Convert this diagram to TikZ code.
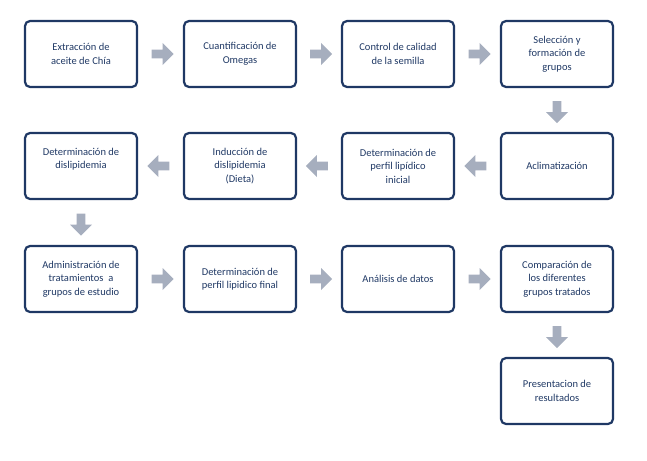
\documentclass[tikz,border=0pt]{standalone}
\usepackage{fontspec}
\setmainfont{Carlito}
\usetikzlibrary{shapes.arrows,calc}
\definecolor{navy}{HTML}{1F3864}
\definecolor{arrowgray}{HTML}{A6AEBE}
\tikzset{
  stepbox/.style={draw=navy, line width=2.2pt, rounded corners=5pt, minimum width=112pt,
    minimum height=66pt, align=center, text=navy, font=\fontsize{10.5}{13.5}\selectfont},
  blockarrow/.style={single arrow, fill=arrowgray, draw=none, minimum height=22pt,
    minimum width=22pt, single arrow head extend=5pt, inner sep=0pt,
    text height=6pt, text depth=0pt, single arrow tip angle=90},
}
\begin{document}
\begin{tikzpicture}[x=1pt,y=-1pt]
    \useasboundingbox (0,0) rectangle (647,460);

    % fila 1
    \node[stepbox] (ext) at (81,54) {Extracción de\\aceite de Chía};
    \node[stepbox] (cua) at (240,54) {Cuantificación de\\Omegas};
    \node[stepbox] (con) at (398,54) {Control de calidad\\de la semilla};
    \node[stepbox] (sel) at (557,54) {Selección y\\formación de\\grupos};

    % fila 2
    \node[stepbox] (dis) at (81,166) {Determinación de\\dislipidemia\\[2pt]};
    \node[stepbox] (ind) at (240,166) {Inducción de\\dislipidemia\\(Dieta)};
    \node[stepbox] (per) at (398,166) {Determinación de\\perfil lipídico\\inicial};
    \node[stepbox] (acl) at (557,166) {Aclimatización};

    % fila 3
    \node[stepbox] (adm) at (81,279) {Administración de\\tratamientos~ a\\grupos de estudio};
    \node[stepbox] (fin) at (240,279) {Determinación de\\perfil lipidico final};
    \node[stepbox] (ana) at (398,279) {Análisis de datos};
    \node[stepbox] (com) at (557,279) {Comparación de\\los diferentes\\grupos tratados};

    % fila 4
    \node[stepbox] (pre) at (557,391) {Presentacion de\\resultados};

    % flechas
    \node[blockarrow] at ($(ext)!0.5!(cua)$) {};
    \node[blockarrow] at ($(cua)!0.5!(con)$) {};
    \node[blockarrow] at ($(con)!0.5!(sel)$) {};
    \node[blockarrow, rotate=-90] at ($(sel)!0.5!(acl)$) {};
    \node[blockarrow, rotate=180] at ($(acl)!0.5!(per)$) {};
    \node[blockarrow, rotate=180] at ($(per)!0.5!(ind)$) {};
    \node[blockarrow, rotate=180] at ($(ind)!0.5!(dis)$) {};
    \node[blockarrow, rotate=-90] at ($(dis)!0.5!(adm)$) {};
    \node[blockarrow] at ($(adm)!0.5!(fin)$) {};
    \node[blockarrow] at ($(fin)!0.5!(ana)$) {};
    \node[blockarrow] at ($(ana)!0.5!(com)$) {};
    \node[blockarrow, rotate=-90] at ($(com)!0.5!(pre)$) {};

\end{tikzpicture}
\end{document}
